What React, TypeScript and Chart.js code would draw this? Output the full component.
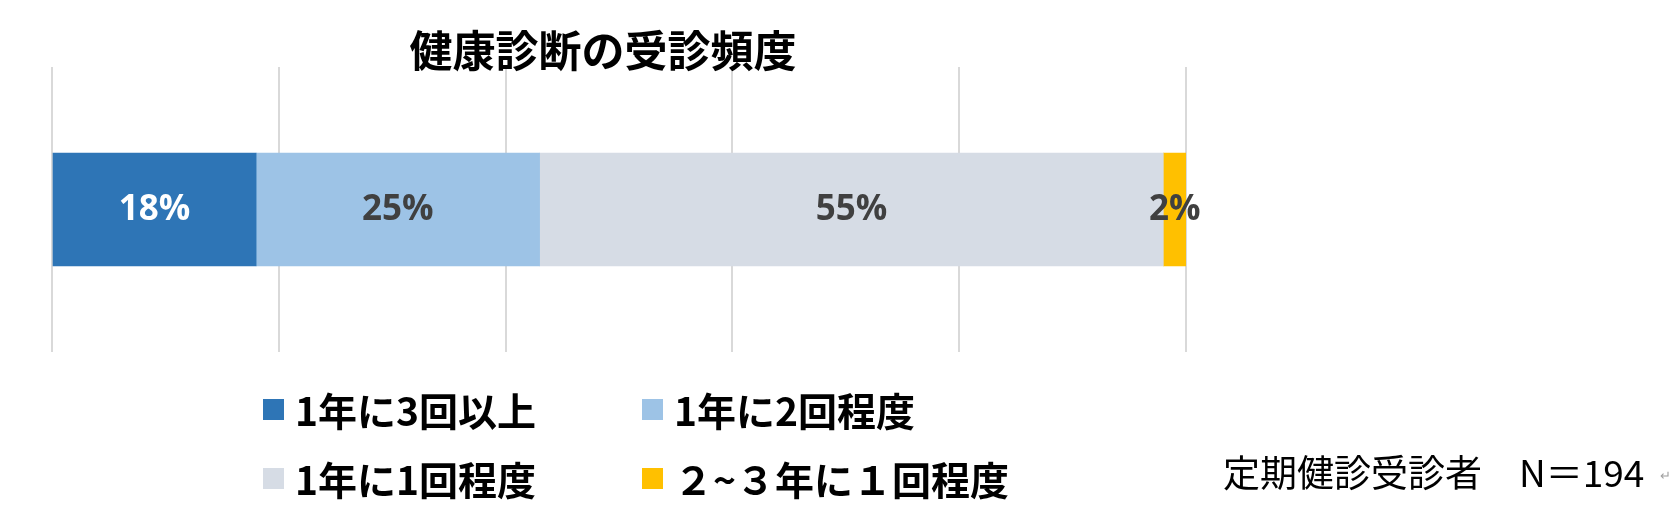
import React, { useEffect, useRef } from "react";
import Chart from "chart.js/auto";

const categories = ["受診頻度"];
const seriesLabels = ["1年に3回以上", "1年に2回程度", "1年に1回程度", "２~３年に１回程度"];
const seriesValues = [18, 25, 55, 2];
const seriesColors = ["#2E75B6", "#9DC3E6", "#D6DCE5", "#FFC000"];
const labelColors = ["#FFFFFF", "#404040", "#404040", "#404040"];
const xTicks = [0, 20, 40, 60, 80, 100];
const chartTitle = "健康診断の受診頻度";
const noteText = "定期健診受診者　N＝194";

const JP = '"Noto Sans CJK JP", sans-serif';

// value labels in the middle of each segment
const barLabels = {
    id: "barLabels",
    afterDatasetsDraw(chart: any) {
        const { ctx } = chart;
        ctx.save();
        ctx.font = "bold 35px 'Open Sans'";
        ctx.textAlign = "center";
        ctx.textBaseline = "middle";
        chart.data.datasets.forEach((ds: any, i: number) => {
            const meta = chart.getDatasetMeta(i);
            meta.data.forEach((el: any, j: number) => {
                const { x, y } = el.getCenterPoint();
                ctx.fillStyle = labelColors[i];
                ctx.fillText(`${ds.data[j]}%`, x, y + 1);
            });
        });
        ctx.restore();
    }
};

// legend grid: two columns, two rows
const legendSpots = [
    { left: 263, cy: 409 },
    { left: 642, cy: 409 },
    { left: 263, cy: 478 },
    { left: 642, cy: 478 }
];

const App = () => {
    const chartRef = useRef<HTMLCanvasElement | null>(null);

    useEffect(() => {
        document.body.style.margin = "0";
        if (!chartRef.current) return;

        const chart = new Chart(chartRef.current, {
            type: "bar",
            data: {
                labels: categories,
                datasets: seriesLabels.map((label, i) => ({
                    label,
                    data: [seriesValues[i]],
                    backgroundColor: seriesColors[i],
                    borderWidth: 0,
                    barThickness: 113
                }))
            },
            options: {
                indexAxis: "y",
                responsive: true,
                maintainAspectRatio: false,
                animation: false,
                layout: { padding: { left: 20, right: 490, top: 0, bottom: 165 } },
                plugins: {
                    legend: { display: false },
                    tooltip: { enabled: false },
                    title: {
                        display: true,
                        text: chartTitle,
                        color: "#000000",
                        font: { family: JP, size: 43, weight: "bold", lineHeight: 1 },
                        padding: { top: 29, bottom: -5 }
                    }
                },
                scales: {
                    x: {
                        stacked: true,
                        min: xTicks[0],
                        max: xTicks[xTicks.length - 1],
                        ticks: { display: false, stepSize: xTicks[1] - xTicks[0] },
                        grid: { color: "#D9D9D9", lineWidth: 2, drawTicks: false },
                        border: { display: false }
                    },
                    y: {
                        stacked: true,
                        ticks: { display: false },
                        grid: { display: false, drawTicks: false },
                        border: { display: false },
                        afterFit: (scale: any) => {
                            scale.width = 32;
                        }
                    }
                }
            },
            plugins: [barLabels]
        });

        return () => {
            chart.destroy();
        };
    }, []);

    return (
        <div style={{ position: "relative", width: 1676, height: 517, background: "#fff", overflow: "hidden" }}>
            <div style={{ position: "absolute", left: 0, top: 0, width: 1676, height: 517 }}>
                <canvas ref={chartRef} />
            </div>
            {seriesLabels.map((label, i) => (
                <div
                    key={label}
                    style={{
                        position: "absolute",
                        left: legendSpots[i].left,
                        top: legendSpots[i].cy - 25,
                        height: 50,
                        display: "flex",
                        alignItems: "center",
                        whiteSpace: "nowrap"
                    }}
                >
                    <span style={{ display: "inline-block", width: 21, height: 21, background: seriesColors[i], marginRight: 11 }} />
                    <span style={{ fontFamily: JP, fontWeight: "bold", fontSize: 39, lineHeight: 1, color: "#000" }}>{label}</span>
                </div>
            ))}
            <div
                style={{
                    position: "absolute",
                    left: 1223,
                    top: 446,
                    height: 50,
                    display: "flex",
                    alignItems: "center",
                    whiteSpace: "nowrap",
                    fontFamily: JP,
                    fontSize: 37,
                    lineHeight: 1,
                    color: "#000"
                }}
            >
                {noteText}
            </div>
            <div style={{ position: "absolute", left: 1660, top: 468, fontFamily: JP, fontSize: 13, lineHeight: 1, color: "#A0A0A0" }}>↵</div>
        </div>
    );
};

export default App;
